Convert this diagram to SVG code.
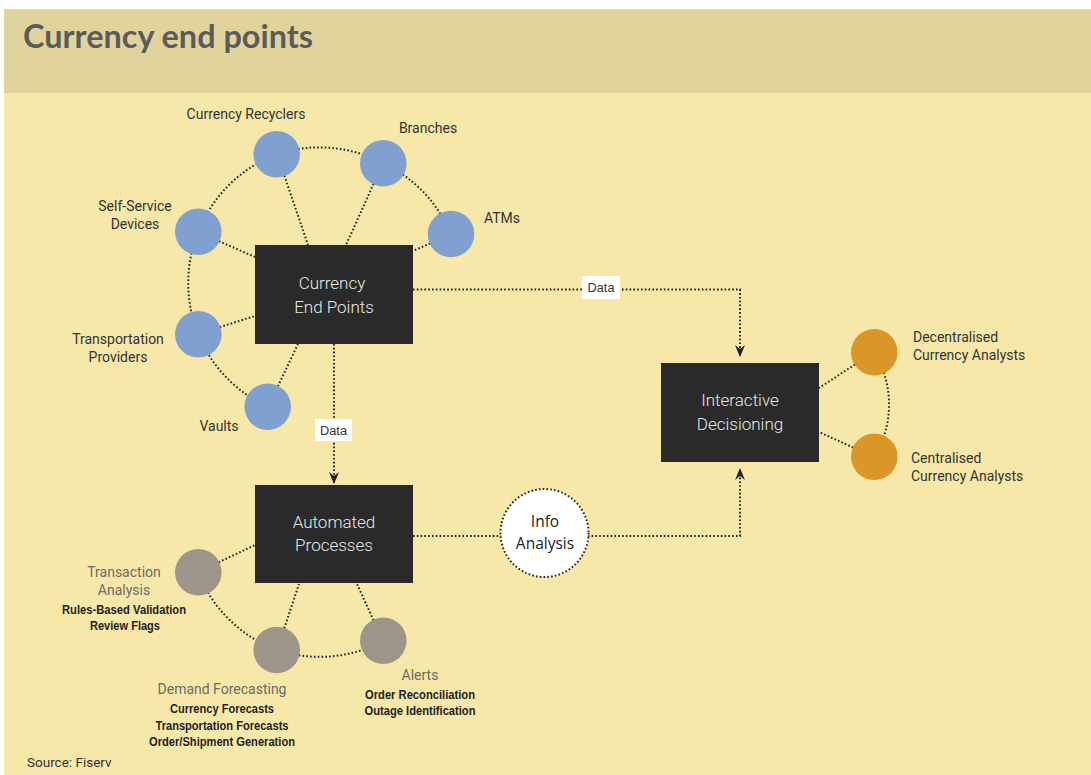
<svg xmlns="http://www.w3.org/2000/svg" width="1091" height="775" viewBox="0 0 1091 775">
  <defs>
    <style>
      .dot { fill: none; stroke: #222; stroke-width: 2; stroke-dasharray: 1.6 2.2; }
      .box { fill: #2a2a2a; }
      .boxtxt { font-family: Roboto, "Liberation Sans", sans-serif; font-weight: 300; font-size: 17px; fill: #e8e8e8; text-anchor: middle; }
      .lbl { font-family: Roboto, "Liberation Sans", sans-serif; font-size: 14px; fill: #333; }
      .glbl { font-family: Roboto, "Liberation Sans", sans-serif; font-size: 14px; fill: #6e6a64; text-anchor: middle; }
      .sub { font-family: "Liberation Sans", Arial, sans-serif; font-weight: bold; font-size: 12.5px; fill: #1e1e1e; text-anchor: middle; }
      .blue { fill: #80a0cf; }
      .grey { fill: #9e958a; }
      .orange { fill: #da9629; }
      .tag { fill: #ffffff; }
      .tagtxt { font-family: "Liberation Sans", Arial, sans-serif; font-size: 12.5px; fill: #333; text-anchor: middle; }
    </style>
    <marker id="arr" viewBox="0 0 12 10" refX="12" refY="5" markerWidth="12" markerHeight="10" markerUnits="userSpaceOnUse" orient="auto">
      <path d="M0,0 L4,5 L0,10 L12,5 Z" fill="#222"/>
    </marker>
  </defs>

  <!-- background -->
  <rect x="0" y="0" width="1091" height="775" fill="#ffffff"/>
  <rect x="4" y="9" width="1087" height="766" fill="#f7e8a9"/>
  <rect x="4" y="9" width="1087" height="84" fill="#e0d49c"/>
  <text x="23" y="48" font-family="Lato, 'Liberation Sans', sans-serif" font-weight="bold" font-size="32" fill="#5b5b5b" textLength="290" lengthAdjust="spacingAndGlyphs">Currency end points</text>

  <!-- connectors -->
  <g id="connectors">
    <!-- top cluster ring -->
    <path class="dot" d="M451,234 A138,138 0 0 0 383,163 A138,138 0 0 0 277,154 A138,138 0 0 0 198,232 A138,138 0 0 0 198,334 A138,138 0 0 0 268,407"/>
    <!-- top spokes -->
    <line class="dot" x1="277" y1="154" x2="308" y2="245"/>
    <line class="dot" x1="383" y1="163" x2="346" y2="245"/>
    <line class="dot" x1="451" y1="234" x2="413" y2="251"/>
    <line class="dot" x1="198" y1="232" x2="255" y2="257"/>
    <line class="dot" x1="198" y1="334" x2="255" y2="316"/>
    <line class="dot" x1="268" y1="407" x2="298" y2="344"/>
    <!-- bottom cluster ring -->
    <path class="dot" d="M198,572 A135,135 0 0 0 277,650 A135,135 0 0 0 383,641"/>
    <line class="dot" x1="198" y1="572" x2="255" y2="545"/>
    <line class="dot" x1="277" y1="650" x2="299" y2="584"/>
    <line class="dot" x1="383" y1="641" x2="357" y2="584"/>
    <!-- orange -->
    <path class="dot" d="M874,352 A99,99 0 0 1 874,457"/>
    <line class="dot" x1="874" y1="352" x2="819" y2="388"/>
    <line class="dot" x1="874" y1="457" x2="819" y2="432"/>
    <!-- data flows -->
    <path class="dot" d="M334,344 L334,484" marker-end="url(#arr)"/>
    <path class="dot" d="M413,289.5 L740,289.5 L740,357" marker-end="url(#arr)"/>
    <path class="dot" d="M413,536 L740,536 L740,468" marker-end="url(#arr)"/>
    <rect class="tag" x="315" y="419" width="37" height="22"/>
    <text class="tagtxt" x="333.5" y="435" textLength="27" lengthAdjust="spacingAndGlyphs">Data</text>
    <rect class="tag" x="582" y="276" width="38" height="23"/>
    <text class="tagtxt" x="601" y="292" textLength="27" lengthAdjust="spacingAndGlyphs">Data</text>
  </g>

  <!-- main boxes -->
  <g id="currency-end-points">
    <rect class="box" x="255" y="245" width="158" height="99"/>
    <text class="boxtxt" x="332" y="289">Currency</text>
    <text class="boxtxt" x="334" y="313">End Points</text>
  </g>
  <g id="automated-processes">
    <rect class="box" x="255" y="485" width="158" height="98"/>
    <text class="boxtxt" x="334" y="528">Automated</text>
    <text class="boxtxt" x="334" y="551">Processes</text>
  </g>
  <g id="interactive-decisioning">
    <rect class="box" x="661" y="363" width="158" height="99"/>
    <text class="boxtxt" x="740" y="406">Interactive</text>
    <text class="boxtxt" x="740" y="430">Decisioning</text>
  </g>
  <g id="info-analysis">
    <circle cx="544.5" cy="533" r="44" fill="#ffffff" stroke="#222" stroke-width="2" stroke-dasharray="1.6 2.2"/>
    <text x="545" y="527" font-family="'Open Sans', 'Liberation Sans', sans-serif" font-size="15.5" fill="#222" text-anchor="middle">Info</text>
    <text x="545" y="549" font-family="'Open Sans', 'Liberation Sans', sans-serif" font-size="15.5" fill="#222" text-anchor="middle">Analysis</text>
  </g>

  <!-- blue nodes -->
  <g id="currency-recyclers">
    <circle class="blue" cx="276.7" cy="154.3" r="23.3"/>
    <text class="lbl" x="246" y="119" text-anchor="middle">Currency Recyclers</text>
  </g>
  <g id="branches">
    <circle class="blue" cx="383.3" cy="163.3" r="23.3"/>
    <text class="lbl" x="428" y="133" text-anchor="middle">Branches</text>
  </g>
  <g id="atms">
    <circle class="blue" cx="451" cy="234" r="23.3"/>
    <text class="lbl" x="484" y="223">ATMs</text>
  </g>
  <g id="self-service-devices">
    <circle class="blue" cx="198.3" cy="231.7" r="23.3"/>
    <text class="lbl" x="135" y="211" text-anchor="middle">Self-Service</text>
    <text class="lbl" x="135" y="229" text-anchor="middle">Devices</text>
  </g>
  <g id="transportation-providers">
    <circle class="blue" cx="198.3" cy="334.3" r="23.3"/>
    <text class="lbl" x="118" y="344" text-anchor="middle">Transportation</text>
    <text class="lbl" x="118" y="362" text-anchor="middle">Providers</text>
  </g>
  <g id="vaults">
    <circle class="blue" cx="267.7" cy="406.7" r="23.3"/>
    <text class="lbl" x="219" y="431" text-anchor="middle">Vaults</text>
  </g>

  <!-- grey nodes -->
  <g id="transaction-analysis">
    <circle class="grey" cx="198.3" cy="572.3" r="23.3"/>
    <text class="glbl" x="124" y="577">Transaction</text>
    <text class="glbl" x="124" y="595">Analysis</text>
    <text class="sub" x="124" y="614" textLength="124" lengthAdjust="spacingAndGlyphs">Rules-Based Validation</text>
    <text class="sub" x="125" y="630" textLength="70" lengthAdjust="spacingAndGlyphs">Review Flags</text>
  </g>
  <g id="demand-forecasting">
    <circle class="grey" cx="276.7" cy="650" r="23.3"/>
    <text class="glbl" x="222" y="694">Demand Forecasting</text>
    <text class="sub" x="222" y="713" textLength="104" lengthAdjust="spacingAndGlyphs">Currency Forecasts</text>
    <text class="sub" x="222" y="730" textLength="133" lengthAdjust="spacingAndGlyphs">Transportation Forecasts</text>
    <text class="sub" x="222" y="746" textLength="146" lengthAdjust="spacingAndGlyphs">Order/Shipment Generation</text>
  </g>
  <g id="alerts">
    <circle class="grey" cx="383.3" cy="640.7" r="23.3"/>
    <text class="glbl" x="420" y="680">Alerts</text>
    <text class="sub" x="420" y="699" textLength="110" lengthAdjust="spacingAndGlyphs">Order Reconciliation</text>
    <text class="sub" x="420" y="715" textLength="111" lengthAdjust="spacingAndGlyphs">Outage Identification</text>
  </g>

  <!-- orange nodes -->
  <g id="decentralised-analysts">
    <circle class="orange" cx="874.3" cy="352.3" r="23.3"/>
    <text class="lbl" x="913" y="342">Decentralised</text>
    <text class="lbl" x="913" y="360">Currency Analysts</text>
  </g>
  <g id="centralised-analysts">
    <circle class="orange" cx="874.3" cy="456.7" r="23.3"/>
    <text class="lbl" x="911" y="463">Centralised</text>
    <text class="lbl" x="911" y="481">Currency Analysts</text>
  </g>

  <text x="27" y="767" font-family="Roboto, 'Liberation Sans', sans-serif" font-size="13.5" fill="#333">Source: Fiserv</text>
</svg>
